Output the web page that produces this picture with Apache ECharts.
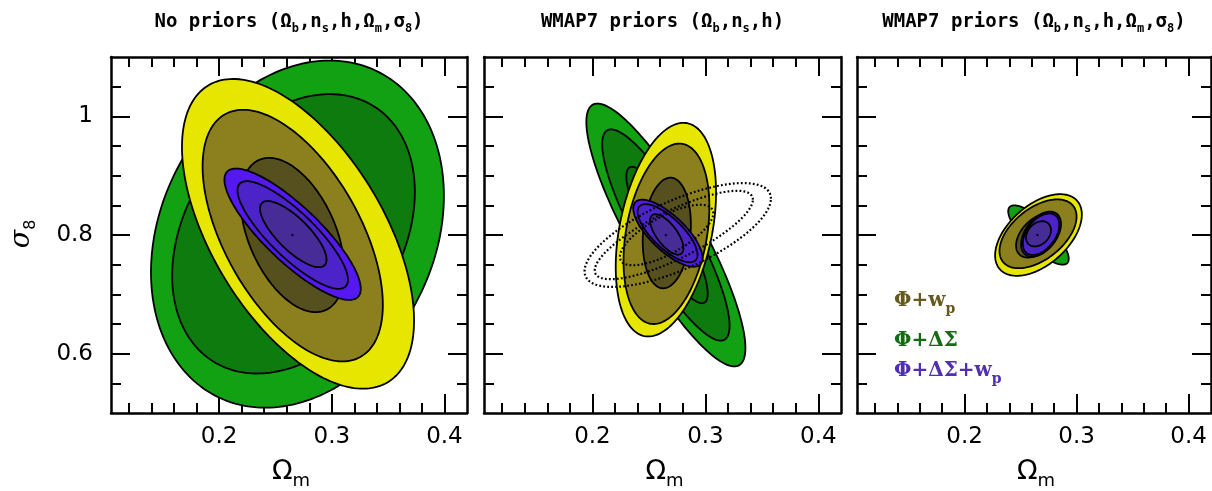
<!DOCTYPE html>
<html>
<head>
<meta charset="utf-8">
<script src="https://cdn.jsdelivr.net/npm/echarts@6/dist/echarts.min.js"></script>
<style>
html,body{margin:0;padding:0;background:#fff;}
#chart{width:1212px;height:491px;}
</style>
</head>
<body>
<div id="chart"></div>
<script>
// ---------- axes ----------
const xRange = [0.104, 0.42];
const yRange = [0.5, 1.1];
const xMajorTicks = [0.2, 0.3, 0.4];
const xMinorTicks = [0.12, 0.14, 0.16, 0.18, 0.22, 0.24, 0.26, 0.28, 0.32, 0.34, 0.36, 0.38];
const yMajorTicks = [0.6, 0.8, 1.0];
const yMinorTicks = [0.55, 0.65, 0.7, 0.75, 0.85, 0.9, 0.95, 1.05];

// best-fit point
const bestFit = [0.265, 0.80];

// ---------- contours: [probe, level, centre Om, centre s8, half-width Om, half-height s8, correlation] ----------
const noPriorsContours = [
  ['dSigma', 3, 0.2695, 0.8015, 0.130, 0.2925, 0.22],
  ['dSigma', 2, 0.2660, 0.8020, 0.1077, 0.2354, 0.30],
  ['wp', 3, 0.2700, 0.8020, 0.103, 0.261, -0.56],
  ['wp', 2, 0.2653, 0.7990, 0.080, 0.212, -0.55],
  ['wp', 1, 0.2650, 0.8000, 0.046, 0.130, -0.45],
  ['joint', 3, 0.2652, 0.8013, 0.0605, 0.1107, -0.83],
  ['joint', 2, 0.2653, 0.8000, 0.049, 0.0907, -0.83],
  ['joint', 1, 0.2658, 0.8015, 0.0295, 0.0557, -0.77]
];
const wmap3Contours = [
  ['dSigma', 3, 0.2650, 0.8000, 0.0704, 0.2215, -0.86],
  ['dSigma', 2, 0.2650, 0.8000, 0.0564, 0.1780, -0.86],
  ['dSigma', 1, 0.2660, 0.8000, 0.036, 0.115, -0.86],
  ['wp', 3, 0.2650, 0.8090, 0.0444, 0.180, 0.35],
  ['wp', 2, 0.2655, 0.8020, 0.038, 0.152, 0.30],
  ['wp', 1, 0.2658, 0.8034, 0.0213, 0.0932, 0.15],
  ['joint', 3, 0.2668, 0.8030, 0.0307, 0.0565, -0.74],
  ['joint', 2, 0.2665, 0.8030, 0.0265, 0.0490, -0.74],
  ['joint', 1, 0.2658, 0.8010, 0.0147, 0.0340, -0.68],
  ['external', 3, 0.2755, 0.8000, 0.0825, 0.0875, 0.70],
  ['external', 2, 0.2720, 0.8000, 0.0700, 0.0745, 0.80],
  ['external', 1, 0.2656, 0.8000, 0.0413, 0.0510, 0.72]
];
const wmap5Contours = [
  ['dSigma', 3, 0.2660, 0.8000, 0.027, 0.050, -0.80],
  ['wp', 3, 0.2660, 0.8000, 0.0387, 0.0688, 0.50],
  ['wp', 2, 0.2656, 0.8020, 0.0344, 0.0580, 0.50],
  ['wp', 1, 0.2653, 0.7990, 0.0193, 0.0370, 0.45],
  ['joint', 3, 0.2683, 0.8014, 0.0178, 0.0380, 0.45],
  ['joint', 2, 0.2683, 0.8014, 0.0163, 0.0350, 0.45],
  ['joint', 1, 0.2660, 0.8020, 0.0111, 0.0212, 0.30]
];

const panelTitles = [
  '{t|No priors (Ω}{s|b}{t|,n}{s|s}{t|,h,Ω}{s|m}{t|,σ}{s|8}{t|)}',
  '{t|WMAP7 priors (Ω}{s|b}{t|,n}{s|s}{t|,h)}',
  '{t|WMAP7 priors (Ω}{s|b}{t|,n}{s|s}{t|,h,Ω}{s|m}{t|,σ}{s|8}{t|)}'
];
const legendLabels = [
  '{a|Φ+w}{s|p}',
  '{a|Φ+ΔΣ}',
  '{a|Φ+ΔΣ+w}{s|p}'
];

// ---------- styles ----------
const fillColors = {
  dSigma: {3: '#12a112', 2: '#0e7b0e', 1: '#0c710c'},
  wp: {3: '#e6e600', 2: '#8c7f1e', 1: '#56501f'},
  joint: {3: '#5518f0', 2: '#4b23c8', 1: '#472c98'}
};
const legendColors = ['#665a1e', '#136b13', '#5030b0'];

const grids = [
  {left: 111, top: 57, width: 356, height: 356},
  {left: 484, top: 57, width: 357, height: 356},
  {left: 857, top: 57, width: 354, height: 356}
];
const panelContours = [noPriorsContours, wmap3Contours, wmap5Contours];

const AXW = 2.5, TKW = 2;
const xAxes = [], yAxes = [], series = [];
grids.forEach((g, i) => {
  const base = {gridIndex: i, type: 'value', min: xRange[0], max: xRange[1], splitLine: {show: false}};
  const bx = xAxes.length;
  xAxes.push(Object.assign({}, base, {
    position: 'bottom',
    axisLine: {show: true, onZero: false, lineStyle: {color: '#000', width: AXW}},
    axisTick: {show: true, inside: true, length: 19, customValues: xMajorTicks, lineStyle: {color: '#000', width: TKW}},
    axisLabel: {show: true, customValues: xMajorTicks, margin: 13, fontSize: 23, color: '#000', fontFamily: 'DejaVu Sans'}
  }));
  xAxes.push(Object.assign({}, base, {
    position: 'bottom',
    axisLine: {show: false},
    axisTick: {show: true, inside: true, length: 10, customValues: xMinorTicks, lineStyle: {color: '#000', width: TKW}},
    axisLabel: {show: false}
  }));
  xAxes.push(Object.assign({}, base, {
    position: 'top',
    axisLine: {show: true, onZero: false, lineStyle: {color: '#000', width: AXW}},
    axisTick: {show: true, inside: true, length: 19, customValues: xMajorTicks, lineStyle: {color: '#000', width: TKW}},
    axisLabel: {show: false}
  }));
  xAxes.push(Object.assign({}, base, {
    position: 'top',
    axisLine: {show: false},
    axisTick: {show: true, inside: true, length: 10, customValues: xMinorTicks, lineStyle: {color: '#000', width: TKW}},
    axisLabel: {show: false}
  }));
  const ybase = {gridIndex: i, type: 'value', min: yRange[0], max: yRange[1], splitLine: {show: false}};
  const by = yAxes.length;
  yAxes.push(Object.assign({}, ybase, {
    position: 'left',
    axisLine: {show: true, onZero: false, lineStyle: {color: '#000', width: AXW}},
    axisTick: {show: true, inside: true, length: 19, customValues: yMajorTicks, lineStyle: {color: '#000', width: TKW}},
    axisLabel: {show: i === 0, customValues: yMajorTicks, margin: 18, fontSize: 23, color: '#000', fontFamily: 'DejaVu Sans'}
  }));
  yAxes.push(Object.assign({}, ybase, {
    position: 'left',
    axisLine: {show: false},
    axisTick: {show: true, inside: true, length: 10, customValues: yMinorTicks, lineStyle: {color: '#000', width: TKW}},
    axisLabel: {show: false}
  }));
  yAxes.push(Object.assign({}, ybase, {
    position: 'right',
    axisLine: {show: true, onZero: false, lineStyle: {color: '#000', width: AXW}},
    axisTick: {show: true, inside: true, length: 19, customValues: yMajorTicks, lineStyle: {color: '#000', width: TKW}},
    axisLabel: {show: false}
  }));
  yAxes.push(Object.assign({}, ybase, {
    position: 'right',
    axisLine: {show: false},
    axisTick: {show: true, inside: true, length: 10, customValues: yMinorTicks, lineStyle: {color: '#000', width: TKW}},
    axisLabel: {show: false}
  }));

  const rows = panelContours[i];
  series.push({
    type: 'custom',
    xAxisIndex: bx, yAxisIndex: by,
    clip: true,
    silent: true,
    data: rows.map(r => [r[2], r[3], r[4], r[5], r[6]]),
    encode: {x: 0, y: 1},
    renderItem: function (params, api) {
      const r = rows[params.dataIndex];
      const probe = r[0], level = r[1];
      const cx = api.value(0), cy = api.value(1), hx = api.value(2), hy = api.value(3), rho = api.value(4);
      const s = Math.sqrt(1 - rho * rho);
      const pts = [];
      const N = 200;
      for (let k = 0; k < N; k++) {
        const t = 2 * Math.PI * k / N;
        pts.push(api.coord([cx + hx * Math.cos(t), cy + hy * (rho * Math.cos(t) + s * Math.sin(t))]));
      }
      let style;
      if (probe === 'external') {
        style = {fill: 'none', stroke: '#000', lineWidth: 2.2, lineDash: [1.8, 2.2]};
      } else {
        style = {fill: fillColors[probe][level], stroke: '#000', lineWidth: 1.8};
      }
      return {type: 'polygon', shape: {points: pts}, style: style};
    }
  });
  series.push({
    type: 'scatter',
    xAxisIndex: bx, yAxisIndex: by,
    silent: true,
    symbolSize: 2.5,
    itemStyle: {color: '#000'},
    data: [bestFit]
  });
});

// ---------- text ----------
const graphics = [];
const titleRich = {
  t: {fontFamily: 'DejaVu Sans Mono', fontWeight: 'bold', fontSize: 19, fill: '#000', lineHeight: 26, verticalAlign: 'middle'},
  s: {fontFamily: 'DejaVu Sans Mono', fontWeight: 'bold', fontSize: 12, fill: '#000', lineHeight: 12, verticalAlign: 'bottom'}
};
grids.forEach((g, i) => {
  const cx = g.left + g.width / 2;
  graphics.push({type: 'text', x: cx, y: 22, style: {text: panelTitles[i], rich: titleRich, align: 'center', verticalAlign: 'middle'}});
  graphics.push({type: 'text', x: cx + 2, y: 472, style: {
    text: '{a|Ω}{s|m}', align: 'center', verticalAlign: 'middle',
    rich: {
      a: {fontFamily: 'DejaVu Sans', fontSize: 27, fill: '#000', lineHeight: 36, verticalAlign: 'middle'},
      s: {fontFamily: 'DejaVu Sans', fontSize: 18, fill: '#000', lineHeight: 16, verticalAlign: 'bottom'}
    }
  }});
});
graphics.push({type: 'text', x: 22, y: 234, rotation: Math.PI / 2, style: {
  text: '{a|σ}{s|8}', align: 'center', verticalAlign: 'middle',
  rich: {
    a: {fontFamily: 'DejaVu Serif', fontStyle: 'italic', fontSize: 27, fill: '#000', lineHeight: 34, verticalAlign: 'middle'},
    s: {fontFamily: 'DejaVu Sans', fontSize: 16, fill: '#000', lineHeight: 15, verticalAlign: 'bottom'}
  }
}});
const legendY = [301, 341, 371];
legendLabels.forEach((txt, k) => {
  graphics.push({type: 'text', x: 894, y: legendY[k], style: {
    text: txt, align: 'left', verticalAlign: 'middle',
    rich: {
      a: {fontFamily: 'DejaVu Serif', fontWeight: 'bold', fontSize: 20, fill: legendColors[k], lineHeight: 30, verticalAlign: 'middle'},
      s: {fontFamily: 'DejaVu Serif', fontWeight: 'bold', fontSize: 14, fill: legendColors[k], lineHeight: 13, verticalAlign: 'bottom'}
    }
  }});
});

const chart = echarts.init(document.getElementById('chart'), null, {renderer: 'canvas'});
chart.setOption({
  animation: false,
  backgroundColor: '#fff',
  grid: grids.map(g => Object.assign({containLabel: false, outerBoundsMode: 'none'}, g)),
  xAxis: xAxes,
  yAxis: yAxes,
  series: series,
  graphic: graphics
});
</script>
</body>
</html>
